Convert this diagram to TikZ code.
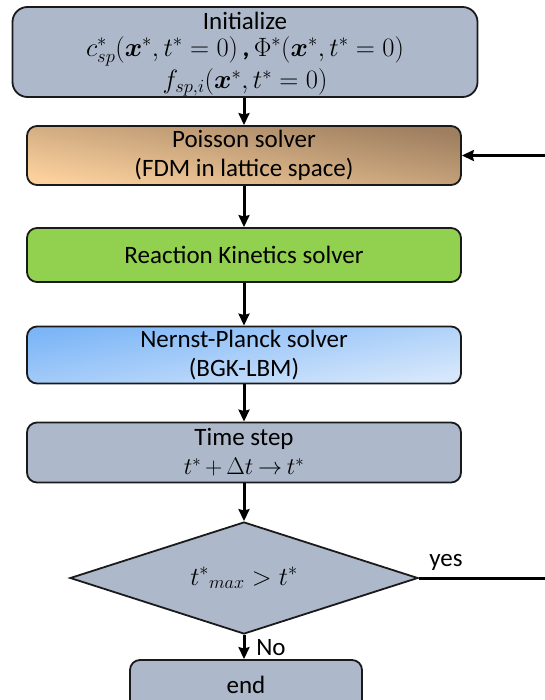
\documentclass[tikz,border=0pt]{standalone}
\usepackage{fix-cm}
\usepackage{amsmath}
\usepackage{fontspec}
\setmainfont{Carlito}
\usetikzlibrary{shapes.geometric,arrows.meta}

\definecolor{boxgray}{HTML}{ADB9CA}
\definecolor{brownD}{HTML}{9E7F60}
\definecolor{peachL}{HTML}{FBD09D}
\definecolor{greenF}{HTML}{92D050}
\definecolor{blueD}{HTML}{7DB6F7}
\definecolor{blueL}{HTML}{D6E7FB}
\definecolor{edge}{HTML}{1A1A1A}

% math sizes used in the boxes
\newcommand{\mathL}{\fontsize{26.5}{30}\selectfont}
\newcommand{\mathM}{\fontsize{26}{30}\selectfont}
\newcommand{\mathS}{\fontsize{24}{29}\selectfont\medmuskip=3mu\thickmuskip=3.5mu}

\begin{document}
\begin{tikzpicture}[x=1pt,y=-1pt,
  every node/.style={font=\fontsize{25}{29}\selectfont, text=black},
  block/.style={draw=edge, line width=1.8pt, rounded corners=10pt,
    minimum width=434pt, align=center, inner sep=0pt},
  flow/.style={line width=3pt, draw=black,
    -{Stealth[length=12pt,width=11pt,inset=1.5pt]}},
  line/.style={inner sep=0pt},
  tag/.style={inner sep=1pt}]

\useasboundingbox (0,0) rectangle (544,700);

% initialisation box and its three lines
\node[block, fill=boxgray, minimum width=465pt, minimum height=90pt,
      rounded corners=15pt] (init) at (245,52) {};
\node[line] (initT) at (245,20.5) {Initialize};
\node[line] (initA) at (245,51.5)
  {\mathL$c^{*}_{sp}(\boldsymbol{x}^{*},t^{*}=0)$\,\textbf{,}\,$\Phi^{*}(\boldsymbol{x}^{*},t^{*}=0)$};
\node[line] (initB) at (245,82.5)
  {\mathL$f_{sp,i}(\boldsymbol{x}^{*},t^{*}=0)$};

% solver boxes, top to bottom
\node[block, top color=brownD, bottom color=peachL, shading angle=-10,
      minimum height=59pt] (poisson) at (244,155.5)
  {Poisson solver\\(FDM in lattice space)};

\node[block, fill=greenF, minimum height=54pt] (react) at (244,255)
  {Reaction Kinetics solver};

\node[block, top color=blueD, bottom color=blueL, shading angle=10,
      minimum height=57pt] (nernst) at (244,355)
  {Nernst-Planck solver\\(BGK-LBM)};

\node[block, fill=boxgray, minimum height=60pt] (tstep) at (244,452.5)
  {Time step\\{\mathS$t^{*}+\Delta t\rightarrow t^{*}$}};

% decision
\node[diamond, draw=edge, line width=1.8pt, fill=boxgray, inner sep=0pt,
      shape aspect=3.1, minimum width=348pt, minimum height=112pt] (check) at (244,578)
  {\mathM${t^{*}}_{max}>t^{*}$};

\node[block, fill=boxgray, minimum width=232pt, minimum height=50pt] (stop) at (246,685)
  {end};

% connectors
\draw[flow] (init.south -| poisson.north) -- (poisson.north);
\draw[flow] (poisson) -- (react);
\draw[flow] (react) -- (nernst);
\draw[flow] (nernst) -- (tstep);
\draw[flow] (tstep) -- (check.north);
\draw[flow] (check.south) -- (stop.north -| check.south);

% loop back to the Poisson solver
\coordinate (loopturn) at (566,578);
\draw[flow] (check.east) -- (loopturn) |- (poisson.east);

\node[tag] (yeslbl) at (446,562) {yes};
\node[tag] (nolbl) at (271,648) {No};
\end{tikzpicture}
\end{document}
